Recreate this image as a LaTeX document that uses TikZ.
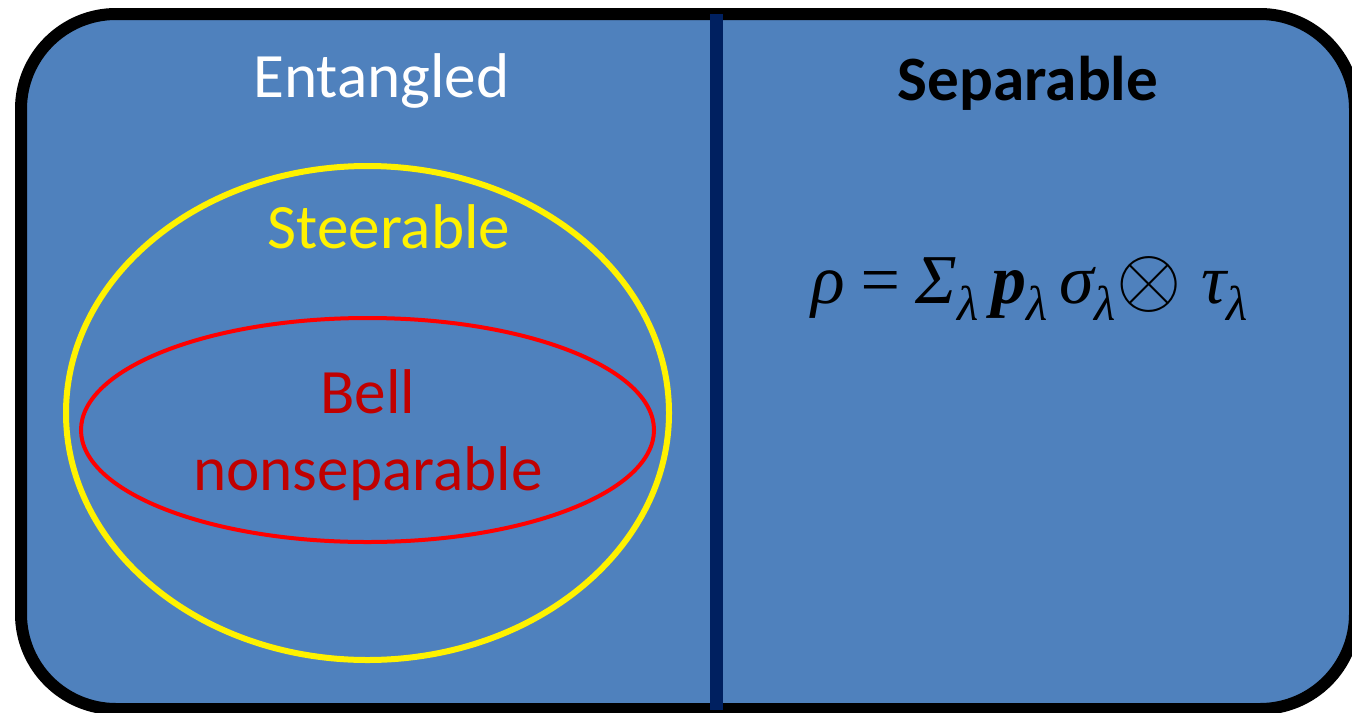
\documentclass[tikz,border=0pt]{standalone}
\usepackage{fontspec}
\setmainfont{Carlito}
\newfontfamily\formfont{Liberation Serif}
\usepackage{graphicx}
\usepackage{xcolor}
\usetikzlibrary{shapes.geometric}
\definecolor{panelblue}{HTML}{4F81BD}
\definecolor{dividernavy}{HTML}{002060}
\definecolor{bellred}{HTML}{C00000}
\tikzset{
	frame/.style={draw=black, fill=panelblue, line width=6pt, rounded corners=47.5pt},
	divider/.style={draw=dividernavy, line width=6.5pt},
	setoval/.style={draw, ellipse, inner sep=0pt},
	title/.style={anchor=base, font=\fontsize{31.6}{38}\selectfont}
}
\newcommand{\bigtensor}{\raisebox{-1pt}{\scalebox{4.2}{\fontsize{10}{12}\selectfont$\otimes$}}}

\begin{document}
\begin{tikzpicture}[x=0.5pt, y=-0.5pt]
	\useasboundingbox (0,0) rectangle (1352,712);
	\clip (0,0) rectangle (1352,712);
	
	%% -- Outer panel and divider
	\draw[frame] (21,14) rectangle (1355,709);
	\coordinate (divtop) at (716.5,14);
	\coordinate (divbot) at (716.5,710);
	\draw[divider] (divtop) -- (divbot);
	
	%% -- Nested sets (left half)
	\node[setoval, draw=yellow, line width=3pt,
	minimum width=301.5pt, minimum height=247pt] (steer) at (367.5,413) {};
	\node[setoval, draw=red, line width=2pt,
	minimum width=286.5pt, minimum height=112pt] (bell) at (367.5,430) {};
	
	%% -- Headers
	\node[title, text=white] (ent) at (381.5,97) {Entangled};
	\node[title, font=\fontsize{31.6}{38}\selectfont\bfseries] (sep) at (1028,100) {Separable};
	
	%% -- Set labels
	\node[title, text=yellow] (steerlbl) at (389,248) {Steerable};
	\node[title, text=bellred] (belllbl) at (368,413) {Bell};
	\node[title, text=bellred] (nonseplbl) at (368,490) {nonseparable};
	
	%% -- Separable state
	\node[anchor=base, font=\formfont\itshape\fontsize{35}{40}\selectfont] (formula) at (1030,303)
	{ρ\,=\,Σ\textsubscript{λ}\,{\bfseries p}\textsubscript{λ}\,σ\textsubscript{λ}\bigtensor\;τ\textsubscript{λ}};
	
\end{tikzpicture}
\end{document}
